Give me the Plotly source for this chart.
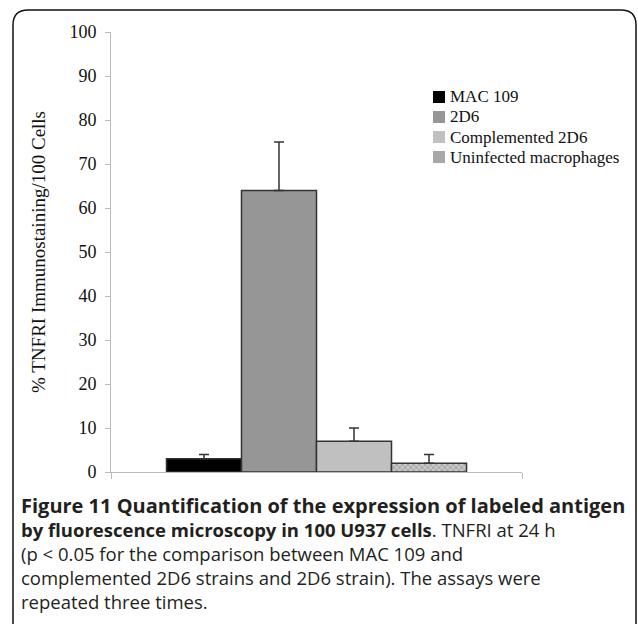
import plotly.graph_objects as go

series = ["MAC 109", "2D6", "Complemented 2D6", "Uninfected macrophages"]
values = [3, 64, 7, 2]
errors = [1, 11, 3, 2]
colors = ["#000000", "#969696", "#c0c0c0", "#b4b4b4"]
legend_colors = ["#000000", "#969696", "#c0c0c0", "#a8a8a8"]
y_ticks = [0, 10, 20, 30, 40, 50, 60, 70, 80, 90, 100]
y_title = "% TNFRI Immunostaining/100 Cells"
caption = [
    "<span style='font-size:20px'><b>Figure 11 Quantification of the expression of labeled antigen</b></span>",
    "<b>by fluorescence microscopy in 100 U937 cells</b>. TNFRI at 24 h",
    "(p &lt; 0.05 for the comparison between MAC 109 and",
    "complemented 2D6 strains and 2D6 strain). The assays were",
    "repeated three times.",
]

W, H = 638, 624
L, R, T, B = 111, 116, 32, 152
pw, ph = W - L - R, H - T - B

def px(x):
    return (x - L) / pw

def py(y):
    return 1 - (y - T) / ph

fig = go.Figure()
for i, (name, v, e, c) in enumerate(zip(series, values, errors, colors)):
    marker = dict(color=c, line=dict(color="#333333", width=1.5))
    if i == 3:
        marker["pattern"] = dict(shape="x", fgcolor="#666666", bgcolor="#c8c8c8", size=4, solidity=0.35)
    fig.add_trace(go.Bar(
        x=[0], y=[v], name=name, marker=marker, showlegend=False,
        error_y=dict(type="data", array=[e], arrayminus=[0], symmetric=False,
                     color="#333333", thickness=1.5, width=5),
    ))

fig.update_layout(
    width=W, height=H,
    margin=dict(l=L, r=R, t=T, b=B, pad=0),
    paper_bgcolor="white", plot_bgcolor="white",
    barmode="group", bargap=0.27, bargroupgap=0,
    font=dict(family="Liberation Serif", color="#111111"),
    xaxis=dict(range=[-0.5, 0.5], tickvals=[-0.5, 0.5], ticktext=["", ""],
               ticks="outside", ticklen=6, tickcolor="#bbbbbb",
               showline=True, linecolor="#bbbbbb", linewidth=1,
               showgrid=False, zeroline=False, fixedrange=True),
    yaxis=dict(range=[0, 100], tickvals=y_ticks, ticks="outside", ticklen=5,
               tickcolor="#bbbbbb", showline=True, linecolor="#bbbbbb", linewidth=1,
               showgrid=False, zeroline=False, ticklabelstandoff=5,
               tickfont=dict(family="Liberation Serif", size=18, color="#111111"),
               title=dict(text=y_title, font=dict(family="Liberation Serif", size=19, color="#111111"),
                          standoff=18)),
)

# manual legend
for k, (name, lc) in enumerate(zip(series, legend_colors)):
    yc = 97 + 20 * k
    fig.add_shape(type="rect", xref="paper", yref="paper",
                  x0=px(433), x1=px(445), y0=py(yc - 6), y1=py(yc + 6),
                  fillcolor=lc, line=dict(width=0))
    fig.add_annotation(x=px(448), y=py(yc), xref="paper", yref="paper",
                       xanchor="left", yanchor="middle", showarrow=False,
                       text=name, font=dict(family="Liberation Serif", size=17, color="#111111"))

# caption block
fig.add_annotation(
    x=px(19), y=py(490), xref="paper", yref="paper",
    xanchor="left", yanchor="top", showarrow=False, align="left",
    text="<br>".join(caption), font=dict(family="Open Sans", size=18.5, color="#231f20"),
)

# rounded border
x0, y0, x1, y1, r = px(13), py(10), px(636), py(650), 15
rx, ry = r / pw, r / ph
path = (f"M {x0},{y1} L {x0},{y0 - ry} Q {x0},{y0} {x0 + rx},{y0} "
        f"L {x1 - rx},{y0} Q {x1},{y0} {x1},{y0 - ry} L {x1},{y1}")
fig.add_shape(type="path", path=path, xref="paper", yref="paper",
              line=dict(color="#111111", width=1.5))

fig.write_html("out.html", config={"displayModeBar": False},
               post_script="document.body.style.margin='0';document.body.style.overflow='hidden';")
